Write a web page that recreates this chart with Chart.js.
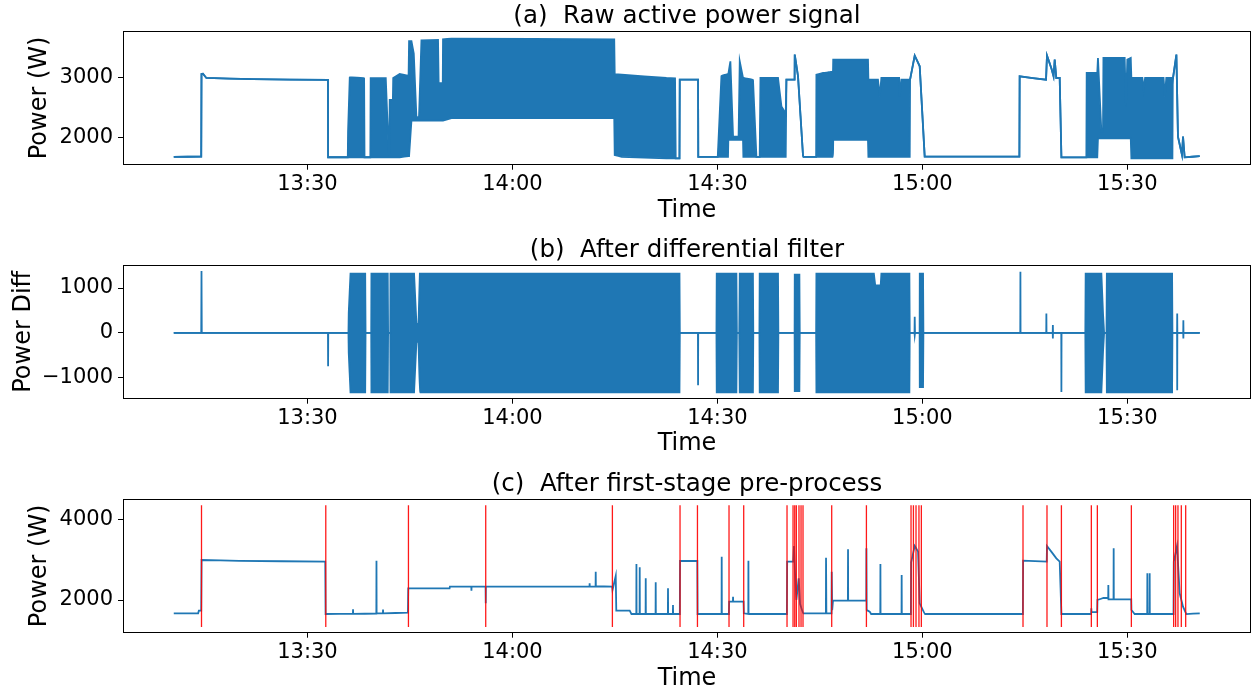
<!DOCTYPE html>
<html>
<head>
<meta charset="utf-8">
<script src="https://cdn.jsdelivr.net/npm/chart.js@4.4.1/dist/chart.umd.min.js"></script>
<style>
  html, body { margin: 0; padding: 0; background: #fff; overflow: hidden; }
  canvas { position: absolute; left: 0; }
</style>
</head>
<body>
<canvas id="rawCanvas" width="1253" height="230" style="top:0px"></canvas>
<canvas id="diffCanvas" width="1253" height="230" style="top:230px"></canvas>
<canvas id="procCanvas" width="1253" height="231" style="top:460px"></canvas>
<script>
// time in minutes after 13:00
const timeTicks = [30, 60, 90, 120, 150];

// (a) raw signal: upper / lower envelope of the trace (equal where it is a single line)
const rawTime = [10.43, 14.45, 14.49, 14.7, 15.2, 22, 33.0, 33.02, 35.9, 35.94,
  36.19, 38.29, 38.35, 39.2, 39.25, 41.46, 41.85, 41.95, 42.04, 42.5, 42.55,
  43.5, 44.8, 44.87, 45.22, 45.56, 45.95, 46.33, 46.68, 49.11, 49.2,
  49.8, 49.84, 51.07, 74.9, 74.97, 76, 82.54, 83.8, 83.9, 84.45,
  84.49, 87.17, 87.2, 90.05, 90.59, 91.55, 91.6, 91.9, 92.29, 93.1,
  93.27, 93.75, 93.8, 95.21, 95.71, 96.19, 96.3, 98.87, 99.37, 100.0,
  100.1, 101.3, 101.32, 101.8, 102.53, 102.6, 104.45, 104.49, 105.46, 106.92,
  106.95, 112.04, 112.1, 113.5, 113.76, 114.0, 116.6, 116.68, 116.93, 118.15,
  118.2, 118.88, 119.61, 120.34, 134.2, 134.24, 138.1, 138.24, 138.9, 139.2,
  139.37, 139.6, 140.1, 140.35, 144.0, 144.05, 145.6, 145.7, 146.2, 146.44,
  146.5, 149.61, 149.8, 150.0, 150.5, 150.59, 152.2, 152.4, 152.6, 155.3,
  155.5, 155.7, 156.6, 156.65, 157.18, 157.41, 158.0, 158.15, 158.39, 160.6];
const rawHigh = [1680, 1682, 3060, 3065, 2995, 2975, 2962, 1672, 1672, 2100,
  3005, 2995, 1672, 1672, 2990, 2990, 1850, 1672, 2630, 2630, 2995,
  3060, 3030, 3608, 3608, 3400, 2330, 2350, 3620, 3630, 2910,
  2910, 3640, 3650, 3640, 3060, 3050, 2995, 2990, 1655, 1655,
  2966, 2966, 1680, 1680, 3030, 3060, 3060, 3273, 2016, 2016,
  3273, 2994, 2994, 2966, 1680, 1680, 2994, 2994, 2520, 2400,
  2966, 2966, 3385, 3022, 1700, 1680, 1680, 3050, 3078, 3100,
  3301, 3301, 2966, 2966, 2687, 2994, 2994, 2687, 2966, 2966,
  2966, 3368, 3189, 1682, 1682, 3022, 2966, 3368, 3150, 3022,
  3301, 2994, 2994, 1671, 1671, 3078, 3078, 3329, 2100, 2100,
  3329, 3329, 2520, 3301, 3329, 2994, 2994, 2799, 2994, 2994,
  2687, 2994, 2994, 2966, 3385, 2016, 1710, 2016, 1671, 1690];
const rawLow = [1680, 1682, 3060, 3065, 2995, 2975, 2962, 1672, 1672, 1672,
  1672, 1672, 1672, 1672, 1672, 1672, 1672, 1672, 1672, 1672, 1672,
  1672, 1690, 1690, 2285, 2285, 2285, 2285, 2285, 2285, 2285,
  2285, 2285, 2325, 2325, 1710, 1680, 1655, 1655, 1655, 1655,
  2966, 2966, 1680, 1680, 1680, 1680, 1961, 1961, 1961, 1961,
  1961, 1961, 1680, 1680, 1680, 1680, 1680, 1680, 1680, 1680,
  2966, 2966, 3385, 3022, 1700, 1680, 1680, 1680, 1680, 1680,
  1961, 1961, 1680, 1680, 1680, 1680, 1680, 1680, 1680, 1680,
  2966, 3368, 3189, 1682, 1682, 3022, 2966, 3368, 3150, 3022,
  3301, 2994, 2994, 1671, 1671, 1671, 1671, 1988, 1988, 1988,
  1988, 1988, 1988, 1988, 1988, 1654, 1654, 1654, 1654, 1654,
  1654, 1654, 1654, 2966, 3385, 2016, 1710, 2016, 1671, 1690];

// (b) differential signal envelope
const diffTime = [10.43, 14.45, 14.49, 14.53, 33.0, 33.02, 33.04, 36.0, 36.04, 36.3,
  38.45, 38.5, 39.33, 39.36, 41.75, 41.8, 42.12, 42.15, 45.6, 45.95,
  46.25, 46.45, 84.45, 84.5, 87.15, 87.17, 87.19, 89.86, 89.9, 92.78,
  92.85, 93.2, 93.27, 95.2, 95.25, 96.15, 96.19, 98.87, 98.92, 101.3,
  101.32, 102.0, 102.05, 104.45, 104.49, 112.9, 113.1, 113.9, 114.0, 118.1,
  118.15, 118.85, 118.88, 118.92, 119.6, 119.62, 120.1, 120.15, 134.33, 134.35,
  134.37, 138.13, 138.15, 138.17, 139.08, 139.1, 139.12, 140.33, 140.35, 140.37,
  143.85, 143.9, 146.2, 146.45, 146.6, 146.95, 147.0, 156.55, 156.6, 157.28,
  157.3, 157.32, 158.18, 158.2, 158.22, 160.6];
const diffHigh = [0, 0, 1380, 0, 0, 0, 0, 0, 450, 1320,
  1320, 0, 0, 1320, 1320, 0, 0, 1320, 1320, 200,
  200, 1320, 1320, 0, 0, 0, 0, 0, 1320, 1320,
  0, 0, 1320, 1320, 0, 0, 1320, 1320, 0, 0,
  1300, 1300, 0, 0, 1320, 1320, 1060, 1060, 1320, 1320,
  0, 0, 358, 0, 0, 1320, 1320, 0, 0, 1365,
  0, 0, 433, 0, 0, 172, 0, 0, 0, 0,
  0, 1320, 1320, 400, 0, 0, 1320, 1320, 0, 0,
  433, 0, 0, 283, 0, 0];
const diffLow = [0, 0, 0, 0, 0, -746, 0, 0, -450, -1330,
  -1330, 0, 0, -1330, -1330, 0, 0, -1330, -1330, -200,
  -200, -1330, -1330, 0, 0, -1171, 0, 0, -1330, -1330,
  0, 0, -1330, -1330, 0, 0, -1330, -1330, 0, 0,
  -1300, -1300, 0, 0, -1330, -1330, -1330, -1330, -1330, -1330,
  0, 0, -52, 0, 0, -1208, -1208, 0, 0, 0,
  0, 0, 0, 0, 0, -127, 0, 0, -1320, 0,
  0, -1330, -1330, -400, 0, 0, -1330, -1330, 0, 0,
  -1283, 0, 0, -127, 0, 0];

// (c) after first-stage pre-process
const procTime = [10.43, 14.0, 14.1, 14.45, 14.5, 20, 32.6, 32.65, 36.65, 36.67,
  36.69, 40.08, 40.1, 40.12, 41.04, 41.06, 41.08, 44.7, 44.75, 50.8,
  50.85, 53.98, 54.0, 54.02, 56.07, 56.09, 56.11, 71.28, 71.3, 71.32,
  72.17, 72.19, 72.21, 74.6, 74.65, 75.12, 75.2, 77.17, 77.42, 78.13,
  78.15, 78.17, 78.61, 78.63, 78.65, 79.49, 79.51, 79.53, 80.95, 80.97,
  80.99, 82.75, 82.77, 82.79, 83.48, 83.5, 83.52, 84.5, 84.53, 87.06,
  87.1, 90.61, 90.63, 90.65, 91.68, 91.72, 92.27, 92.29, 92.31, 93.83,
  93.87, 94.52, 94.54, 94.56, 100.17, 100.21, 101.1, 101.21, 101.35, 101.56,
  101.9, 102.1, 102.53, 105.88, 105.9, 105.95, 106.7, 106.73, 106.8, 106.92,
  109.1, 109.12, 109.14, 111.79, 111.81, 111.85, 112.29, 112.5, 113.84, 113.86,
  113.88, 116.95, 116.97, 116.99, 118.32, 118.36, 118.88, 119.37, 119.61, 120.34,
  134.71, 134.75, 138.2, 138.24, 139.61, 140.1, 140.35, 144.7, 144.73, 144.76,
  145.59, 145.63, 146.5, 147.2, 147.22, 147.24, 147.98, 148.0, 148.02, 150.57,
  150.6, 151.07, 152.91, 152.93, 152.95, 153.25, 153.27, 153.29, 156.76, 156.8,
  157.27, 157.66, 158.15, 158.63, 160.6];
const procPower = [1668, 1668, 1734, 1734, 2996, 2975, 2955, 1651, 1655, 1768,
  1655, 1660, 2979, 1668, 1668, 1760, 1668, 1685, 2290, 2290,
  2332, 2332, 2232, 2332, 2332, 1917, 2332, 2332, 2415, 2332,
  2332, 2706, 2340, 2332, 2249, 2598, 1734, 1734, 1651, 1651,
  2896, 1651, 1651, 2813, 1651, 1651, 2540, 1651, 1651, 2440,
  1651, 1651, 2290, 1651, 1651, 1876, 1651, 1651, 2971, 2971,
  1651, 1651, 3079, 1651, 1651, 1959, 1959, 2083, 1959, 1959,
  1668, 1651, 2979, 1651, 1651, 2955, 2955, 3345, 2700, 2000,
  2540, 1900, 1668, 1668, 3054, 1668, 1668, 2706, 1750, 1983,
  1990, 3262, 1983, 1983, 3287, 1750, 1710, 1651, 1651, 2896,
  1651, 1651, 2623, 1651, 1651, 2938, 3345, 3204, 1917, 1651,
  1651, 2979, 2955, 3345, 3038, 2955, 1651, 1651, 1793, 1700,
  1700, 2000, 2050, 2050, 2374, 2017, 2017, 3287, 2017, 2017,
  1750, 1651, 1651, 2664, 1651, 1651, 2664, 1651, 1651, 2955,
  3345, 2166, 1834, 1651, 1668];

// detected events (red vertical lines)
const eventTimes = [14.49, 32.68, 44.78, 56.09, 74.63, 84.53, 87.08, 91.7, 93.85, 100.19,
  101.07, 101.32, 101.56, 101.94, 102.24, 102.53, 106.73, 111.81, 118.34, 118.69,
  119.07, 119.5, 119.85, 134.73, 138.24, 140.35, 144.73, 145.61, 150.59, 156.78,
  157.07, 157.41, 157.9, 158.54];
const eventLow = 1330;
const eventHigh = 4360;

const blue = '#1f77b4';
const family = 'DejaVu Sans';

function clock(m) {
  const h = 13 + Math.floor(m / 60);
  const mm = Math.round(m % 60);
  return h + ':' + String(mm).padStart(2, '0');
}
const pts = (xs, ys) => xs.map((x, i) => ({ x: x, y: ys[i] }));

// box around the plot area + title centred over it (like matplotlib axes)
const frame = {
  id: 'frame',
  afterDraw(chart) {
    const { ctx, chartArea: a } = chart;
    ctx.save();
    ctx.strokeStyle = '#000';
    ctx.lineWidth = 1;
    ctx.strokeRect(Math.round(a.left) + 0.5, Math.round(a.top) + 0.5,
      Math.round(a.right - a.left) - 1, Math.round(a.bottom - a.top) - 1);
    ctx.fillStyle = '#000';
    ctx.font = '24.5px "' + family + '"';
    ctx.textAlign = 'center';
    ctx.textBaseline = 'middle';
    ctx.fillText(chart.options.plugins.frame.text, (a.left + a.right) / 2, a.top - 14.3);
    ctx.restore();
  }
};

function panel(id, o) {
  return new Chart(document.getElementById(id), {
    type: 'line',
    data: { datasets: o.datasets },
    options: {
      responsive: false,
      animation: false,
      layout: { padding: { left: 0, right: 2, top: o.top, bottom: 0 } },
      // a tiny tension makes Chart.js trace every point (no per-pixel collapsing)
      elements: { point: { radius: 0 }, line: { tension: 0.000001 } },
      plugins: {
        legend: { display: false },
        tooltip: { enabled: false },
        frame: { text: o.title }
      },
      scales: {
        x: {
          type: 'linear', min: 3.0, max: 168.1,
          afterBuildTicks: s => { s.ticks = timeTicks.map(v => ({ value: v })); },
          afterFit: s => { s.height = o.xHeight; },
          ticks: { callback: v => clock(v), color: '#000', font: { family: family, size: 21 },
                   padding: 2.4, maxRotation: 0, autoSkip: false },
          grid: { drawOnChartArea: false, drawTicks: true, tickLength: 5, tickWidth: 1, tickColor: '#000' },
          border: { display: false },
          title: { display: true, text: 'Time', color: '#000',
                   font: { family: family, size: 24, lineHeight: 1.0 },
                   padding: { top: 0, bottom: o.timePad } }
        },
        y: {
          min: o.yMin, max: o.yMax,
          afterBuildTicks: s => { s.ticks = o.yTicks.map(v => ({ value: v })); },
          afterFit: s => { s.width = 123; },
          ticks: { callback: v => String(v).replace('-', '\u2212'), color: '#000',
                   font: { family: family, size: 21 }, padding: 5 },
          grid: { drawOnChartArea: false, drawTicks: true, tickLength: 5, tickWidth: 1, tickColor: '#000' },
          border: { display: false },
          title: { display: true, text: o.yLabel, color: '#000',
                   font: { family: family, size: 24, lineHeight: 1.0 },
                   padding: { top: o.yPad, bottom: 0 } }
        }
      }
    },
    plugins: [frame]
  });
}

const lineStyle = { borderColor: blue, borderWidth: 1.8, pointRadius: 0 };

panel('rawCanvas', {
  title: '(a)  Raw active power signal', top: 31.2, xHeight: 65.3, timePad: 7.5,
  yMin: 1548, yMax: 3775, yTicks: [2000, 3000], yLabel: 'Power (W)', yPad: 28,
  datasets: [
    Object.assign({ data: pts(rawTime, rawLow), fill: false }, lineStyle),
    Object.assign({ data: pts(rawTime, rawHigh), fill: '-1', backgroundColor: blue }, lineStyle)
  ]
});

panel('diffCanvas', {
  title: '(b)  After differential filter', top: 35, xHeight: 61.3, timePad: 4,
  yMin: -1469, yMax: 1513, yTicks: [-1000, 0, 1000], yLabel: 'Power Diff', yPad: 11.7,
  datasets: [
    Object.assign({ data: pts(diffTime, diffLow), fill: false }, lineStyle),
    Object.assign({ data: pts(diffTime, diffHigh), fill: '-1', backgroundColor: blue }, lineStyle)
  ]
});

panel('procCanvas', {
  title: '(c)  After first-stage pre-process', top: 39, xHeight: 58.3, timePad: 0,
  yMin: 1186, yMax: 4515, yTicks: [2000, 4000], yLabel: 'Power (W)', yPad: 28,
  datasets: [
    {
      data: eventTimes.flatMap(t => [{ x: t, y: eventLow }, { x: t, y: eventHigh }, { x: t, y: null }]),
      borderColor: 'rgba(255,0,0,0.9)', borderWidth: 1.3, pointRadius: 0, fill: false, spanGaps: false
    },
    Object.assign({ data: pts(procTime, procPower), fill: false }, lineStyle)
  ]
});
</script>
</body>
</html>
